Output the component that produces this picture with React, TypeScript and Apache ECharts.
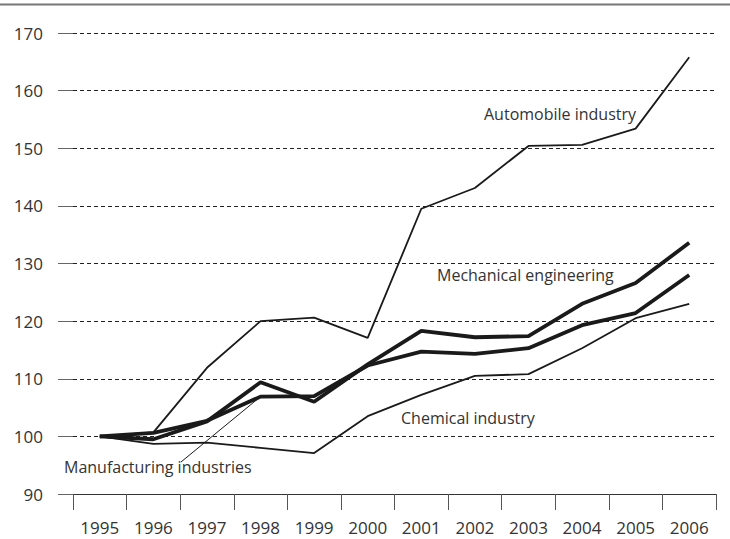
import React, { useEffect, useRef } from "react";
import * as echarts from "echarts";

const years = ["1995", "1996", "1997", "1998", "1999", "2000", "2001", "2002", "2003", "2004", "2005", "2006"];
const automobile = [100, 100.7, 111.9, 120.0, 120.6, 117.1, 139.5, 143.1, 150.4, 150.6, 153.4, 165.8];
const chemical = [100, 98.7, 98.9, 98.0, 97.1, 103.5, 107.2, 110.5, 110.8, 115.3, 120.5, 123.0];
const mechanical = [100, 99.5, 102.6, 109.4, 106.0, 112.5, 118.3, 117.2, 117.4, 123.0, 126.6, 133.6];
const manufacturing = [100, 100.6, 102.7, 106.9, 107.0, 112.3, 114.7, 114.3, 115.3, 119.3, 121.4, 128.0];
const yTicks = { min: 90, max: 170, interval: 10 };

const FONT = "'Open Sans', 'Noto Sans', sans-serif";
const INK = "#1a1a1a";

export default function App() {
  const ref = useRef<HTMLDivElement>(null);
  useEffect(() => {
    if (!ref.current) return;
    const chart = echarts.init(ref.current, null, { renderer: "svg" });
    const thin = (name: string, data: number[]) => ({
      name, type: "line", data, symbol: "none",
      lineStyle: { color: INK, width: 1.8 }, z: 3,
    });
    const thick = (name: string, data: number[], extra: any = {}) => ({
      name, type: "line", data, symbol: "none",
      lineStyle: { color: INK, width: 3.8 }, z: 4, ...extra,
    });
    chart.setOption({
      animation: false,
      backgroundColor: "#fff",
      textStyle: { fontFamily: FONT },
      grid: { left: 73, right: 14, top: 33, bottom: 45 },
      xAxis: {
        type: "category",
        data: years,
        boundaryGap: true,
        axisLine: { show: true, lineStyle: { color: "#333", width: 1 } },
        axisTick: { show: true, length: 16, lineStyle: { color: "#555", width: 1 } },
        axisLabel: { color: "#333", fontSize: 17, margin: 25, fontFamily: FONT },
        splitLine: { show: false },
      },
      yAxis: {
        type: "value",
        min: yTicks.min, max: yTicks.max, interval: yTicks.interval,
        axisLine: { show: false },
        axisTick: { show: true, length: 15, lineStyle: { color: "#666", width: 1 } },
        axisLabel: { color: "#333", fontSize: 17, margin: 30, fontFamily: FONT },
        splitLine: { show: true, lineStyle: { color: "#222", width: 1, type: [4, 3] } },
      },
      series: [
        thin("Automobile industry", automobile),
        thin("Chemical industry", chemical),
        thick("Mechanical engineering", mechanical),
        thick("Manufacturing industries", manufacturing, {
          markLine: {
            symbol: "none",
            silent: true,
            label: { show: false },
            lineStyle: { color: INK, width: 1, type: "solid" },
            data: [[{ x: 181, y: 462 }, { coord: ["1998", manufacturing[3]] }]],
          },
        }),
      ],
      graphic: [
        { type: "line", shape: { x1: 0, y1: 4.5, x2: 730, y2: 4.5 }, style: { stroke: "#777", lineWidth: 2 } },
        { type: "text", left: 484, top: 106, style: { text: "Automobile industry", fill: "#333", font: `16px ${FONT}` } },
        { type: "text", left: 437, top: 267, style: { text: "Mechanical engineering", fill: "#333", font: `16px ${FONT}` } },
        { type: "text", left: 401, top: 410, style: { text: "Chemical industry", fill: "#333", font: `16px ${FONT}` } },
        { type: "text", left: 64, top: 459, style: { text: "Manufacturing industries", fill: "#333", font: `16px ${FONT}` } },
      ],
    });
    return () => chart.dispose();
  }, []);
  return <div ref={ref} style={{ position: "fixed", left: 0, top: 0, width: 730, height: 539 }} />;
}
